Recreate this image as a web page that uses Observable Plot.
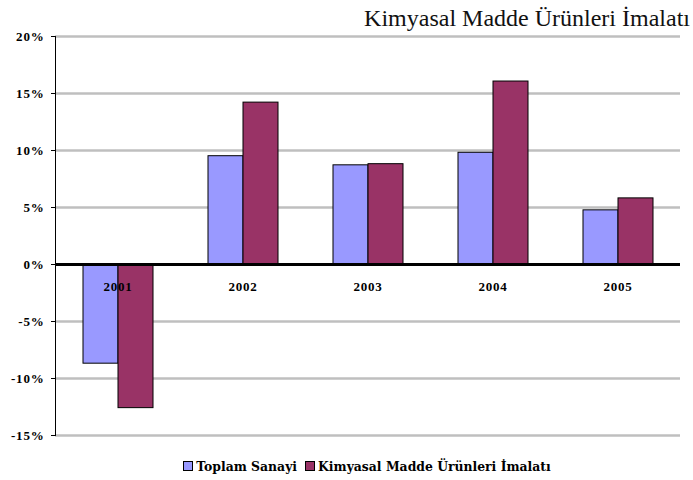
<!DOCTYPE html>
<html>
<head>
<meta charset="utf-8">
<script src="https://cdn.jsdelivr.net/npm/d3@7"></script>
<script src="https://cdn.jsdelivr.net/npm/@observablehq/plot@0.6"></script>
<style>
  body { margin: 0; background: #fff; }
  #wrap { position: relative; width: 693px; height: 480px; overflow: hidden; }
  #title { position: absolute; right: 3px; top: 3px; font-family: "Liberation Serif", serif; font-size: 24px; color: #111; white-space: nowrap; line-height: 30px; }
  #chart { position: absolute; left: 0; top: 0; }
  #chart svg text { font-family: "Liberation Serif", serif; }
  #legend { position: absolute; left: 53px; width: 628px; top: 459px; text-align: center; font-family: "DejaVu Serif", serif; font-weight: bold; font-size: 12.4px; white-space: nowrap; line-height: 16px; }
  .sw { display: inline-block; width: 8px; height: 8px; border: 1px solid #000; margin-right: 3px; vertical-align: 0px; }
  .item { margin: 0 4px; }
</style>
</head>
<body>
<div id="wrap">
  <div id="chart"></div>
  <div id="title"></div>
  <div id="legend"></div>
</div>
<script>
const titleText = "Kimyasal Madde Ürünleri İmalatı";
const years = ["2001", "2002", "2003", "2004", "2005"];
const seriesNames = ["Toplam Sanayi", "Kimyasal Madde Ürünleri İmalatı"];
const toplamSanayi = [-8.7, 9.5, 8.7, 9.8, 4.75];
const kimyasal = [-12.6, 14.2, 8.8, 16.05, 5.8];
const yTicks = [-15, -10, -5, 0, 5, 10, 15, 20];
const colors = ["#9999FF", "#993366"];

const data = [];
years.forEach((y, i) => {
  data.push({year: y, series: seriesNames[0], value: toplamSanayi[i]});
  data.push({year: y, series: seriesNames[1], value: kimyasal[i]});
});

const serif = "'Liberation Serif', serif";

const chart = Plot.plot({
  width: 693,
  height: 450,
  marginLeft: 53,
  marginRight: 12,
  marginTop: 36,
  marginBottom: 15,
  style: {fontFamily: serif, background: "transparent"},
  fx: {domain: years, padding: 0, axis: null, label: null},
  x: {domain: seriesNames, paddingInner: 0, paddingOuter: 0.75, axis: null, label: null},
  y: {domain: [-15, 20], ticks: yTicks, label: null},
  color: {domain: seriesNames, range: colors},
  marks: [
    Plot.ruleY(yTicks.filter(d => d !== 0), {stroke: "#bfbfbf", strokeWidth: 2.5}),
    Plot.barY(data, {fx: "year", x: "series", y: "value", fill: "series", stroke: "#000", strokeWidth: 1}),
    Plot.ruleY([0], {stroke: "#000", strokeWidth: 3}),
    Plot.frame({anchor: "left", stroke: "#000", strokeWidth: 1, fx: ["2001"]}),
    Plot.text(years, {fx: d => d, y: () => 0, text: d => d, dy: 22, fontWeight: "bold", fontSize: 13, fill: "#000"}),
    Plot.axisY({ticks: yTicks, label: null, tickFormat: d => d + "%", tickSize: 4, tickPadding: 7, fontWeight: "bold", fontSize: 13, stroke: "#000", color: "#000"})
  ]
});
document.getElementById("chart").appendChild(chart);
document.getElementById("title").textContent = titleText;
chart.querySelectorAll("text").forEach(t => t.style.letterSpacing = "0.8px");

const legend = document.getElementById("legend");
seriesNames.forEach((name, i) => {
  const item = document.createElement("span");
  item.className = "item";
  const sw = document.createElement("span");
  sw.className = "sw";
  sw.style.background = colors[i];
  item.appendChild(sw);
  item.appendChild(document.createTextNode(name));
  legend.appendChild(item);
});
</script>
</body>
</html>
